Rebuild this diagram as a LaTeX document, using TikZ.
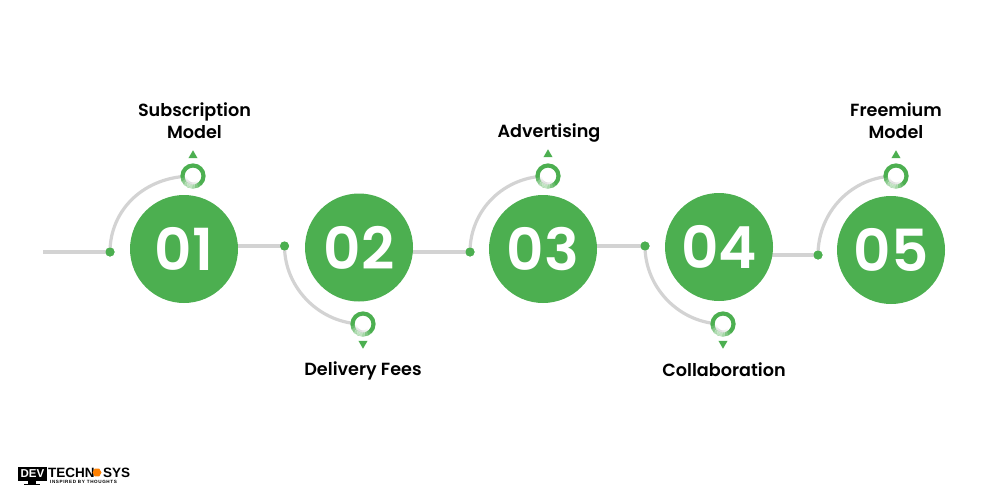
\documentclass[tikz,border=0pt]{standalone}
\usepackage{fontspec}
\setmainfont{Poppins}
\newfontfamily\numf{Poppins SemiBold}
\newfontfamily\labf{Poppins SemiBold}
\newfontfamily\logof{Liberation Sans}
\usetikzlibrary{shapes.geometric}
\definecolor{gr}{HTML}{4CAF50}
\definecolor{ln}{HTML}{D3D3D3}
\tikzset{
 big/.style={circle,fill=gr,minimum size=108pt,inner sep=0pt,text=white,font=\fontsize{58}{58}\numf},
 dot/.style={circle,fill=gr,minimum size=9pt,inner sep=0pt},
 ring/.style={circle,draw=gr,line width=4.2pt,fill=white,minimum size=21pt,inner sep=0pt},
 wire/.style={draw=ln,line width=3.2pt},
 tri/.style={isosceles triangle,isosceles triangle apex angle=60,fill=gr,minimum size=0pt,inner sep=2.1pt},
 lbl/.style={align=center,font=\fontsize{17.6}{22}\labf,text=black}
}
\newcommand{\ringfade}[1]{%
 \foreach \a/\o in {190/.15,205/.35,220/.55,235/.65,250/.65,265/.5,280/.3,295/.15}{
  \draw[white,line width=4.4pt,opacity=\o] ([shift={(\a:10.5pt)}]#1.center) arc[start angle=\a,end angle=\a+15.5,radius=10.5pt];
  \draw[ln,line width=2.4pt,opacity=\o] ([shift={(\a:7.6pt)}]#1.center) arc[start angle=\a,end angle=\a+15.5,radius=7.6pt];
 }
}
\begin{document}
\begin{tikzpicture}[x=1pt,y=-1pt]
\useasboundingbox (0,0) rectangle (1000,500);
\coordinate (start) at (43,252);
\node[dot] (d1) at (110,252) {};
\node[dot] (d2) at (284.5,246) {};
\node[dot] (d3) at (470,252) {};
\node[dot] (d4) at (645,246) {};
\node[dot] (d5) at (818,255) {};
\coordinate (c1) at (184,249);
\coordinate (c2) at (359,247.5);
\coordinate (c3) at (543,249);
\coordinate (c4) at (719,247);
\coordinate (c5) at (891,250);
\draw[wire] (start) -- (d1.center);
\draw[wire] (c1) ++(50,-3) -- (d2.center);
\draw[wire] (c2) ++(50,4.5) -- (d3.center);
\draw[wire] (c3) ++(50,-3) -- (d4.center);
\draw[wire] (c4) ++(50,8) -- (d5.center);
\coordinate (r1) at (193,176);
\coordinate (r2) at (363,324);
\coordinate (r3) at (548,176);
\coordinate (r4) at (723,324);
\coordinate (r5) at (896,176);
\draw[wire] (d1.center) .. controls (110,210) and (144,176) .. (r1);
\draw[wire] (d2.center) .. controls (284.5,288) and (320,324) .. (r2);
\draw[wire] (d3.center) .. controls (470,210) and (504,176) .. (r3);
\draw[wire] (d4.center) .. controls (645,288) and (680,324) .. (r4);
\draw[wire] (d5.center) .. controls (818,212) and (852,176) .. (r5);
\node[dot] at (d1) {};\node[dot] at (d2) {};\node[dot] at (d3) {};\node[dot] at (d4) {};\node[dot] at (d5) {};
\node[ring] (g1) at (r1) {};\node[ring] (g2) at (r2) {};\node[ring] (g3) at (r3) {};\node[ring] (g4) at (r4) {};\node[ring] (g5) at (r5) {};
\ringfade{g1}\ringfade{g2}\ringfade{g3}\ringfade{g4}\ringfade{g5}
\node[big] (n1) at (c1) {01};
\node[big] (n2) at (c2) {02};
\node[big] (n3) at (c3) {03};
\node[big] (n4) at (c4) {04};
\node[big] (n5) at (c5) {05};
\node[tri,rotate=90] (t1) at (193,156) {};
\node[tri,rotate=-90] (t2) at (363,343) {};
\node[tri,rotate=90] (t3) at (548,155) {};
\node[tri,rotate=-90] (t4) at (723,343) {};
\node[tri,rotate=90] (t5) at (896,156) {};
\node[lbl] (l1) at (194.5,121) {Subscription\\Model};
\node[lbl] (l2) at (363,371) {Delivery Fees};
\node[lbl] (l3) at (549,133) {Advertising};
\node[lbl] (l4) at (724,369.5) {Collaboration};
\node[lbl] (l5) at (896,121) {Freemium\\Model};
% logo
\fill[black] (18,467) rectangle (47,481);
\fill[black] (28,481) rectangle (36,484);
\fill[black] (24,484) rectangle (40,485);
\node[text=white,inner sep=0pt,font=\fontsize{11.5}{11.5}\logof\bfseries] (ld) at (32.5,474) {DEV};
\node[inner sep=0pt,anchor=west,font=\fontsize{13.5}{13.5}\logof\bfseries] (lt) at (48,472.5) {TECHN};
\node[regular polygon,regular polygon sides=6,fill=orange,inner sep=0pt,minimum size=9pt] (lh) at (97,472.5) {};
\node[inner sep=0pt,anchor=west,font=\fontsize{13.5}{13.5}\logof\bfseries] (ls) at (103,472.5) {SYS};
\node[inner sep=0pt,anchor=west,font=\fontsize{4.6}{4.6}\logof\bfseries] (li) at (50,481.5) {\addfontfeature{LetterSpace=13}INSPIRED BY THOUGHTS};
\end{tikzpicture}
\end{document}
